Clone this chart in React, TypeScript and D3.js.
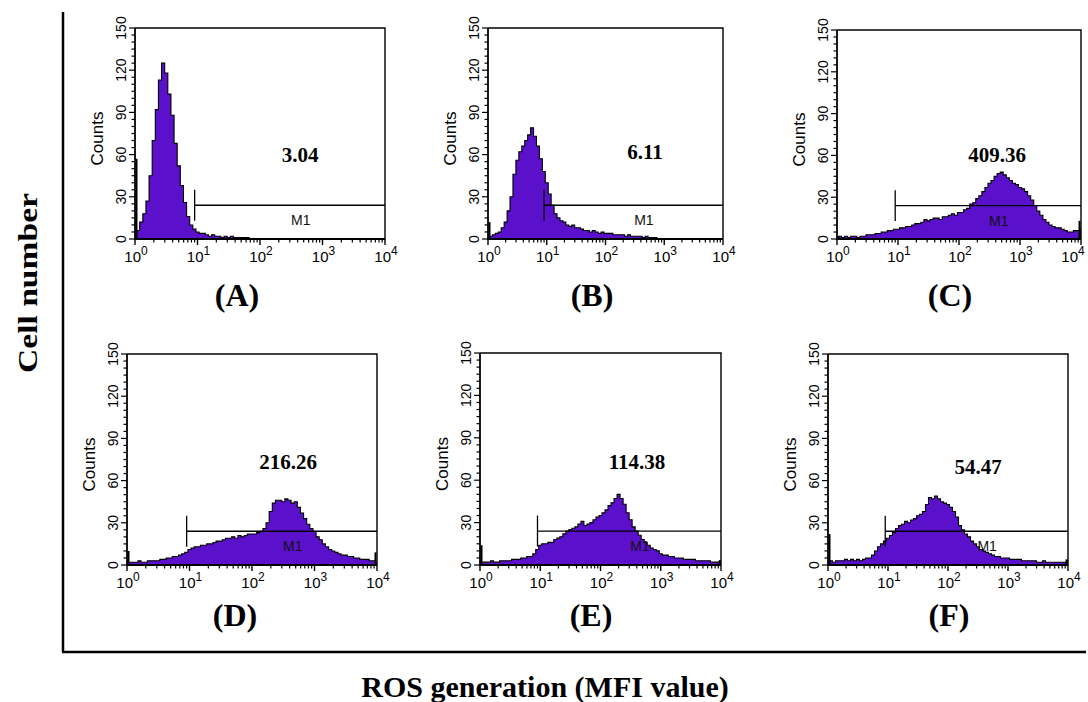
import React from 'react'
import * as d3 from 'd3'

// panel texts
const panelLetters = ['(A)', '(B)', '(C)', '(D)', '(E)', '(F)']
const mfiValues = ['3.04', '6.11', '409.36', '216.26', '114.38', '54.47']
const decades = [0, 1, 2, 3, 4]
const countTicks = [0, 30, 60, 90, 120, 150]
const binStep = 0.05 // log10 width of one channel group

// counts per channel group, from 10^0 to 10^4
const countsA = [4, 6, 12, 18, 27, 45, 70, 92, 113, 125, 118, 103, 88, 68, 52, 38, 26, 16, 10, 7, 5, 4, 4, 3, 2, 3, 2, 2, 1, 2, 1, 2, 1, 1, 1, 1, 1, 0, 0, 0, 0, 0, 0, 0, 0, 0, 0, 0, 0, 0, 0, 0, 0, 0, 0, 0, 0, 0, 0, 0, 0, 0, 0, 0, 0, 0, 0, 0, 0, 0, 0, 0, 0, 0, 0, 0, 0, 0, 0, 0, 0]
const countsB = [3, 2, 3, 4, 5, 8, 12, 20, 30, 46, 56, 62, 66, 70, 74, 79, 73, 66, 57, 48, 40, 32, 24, 18, 15, 13, 12, 10, 9, 10, 8, 8, 7, 6, 6, 5, 6, 5, 4, 5, 4, 4, 4, 3, 3, 3, 3, 2, 3, 2, 2, 2, 2, 1, 2, 1, 1, 1, 0, 0, 0, 0, 0, 0, 0, 0, 0, 0, 0, 0, 0, 0, 0, 0, 0, 0, 0, 0, 0, 0, 0]
const countsC = [1, 2, 1, 2, 1, 2, 2, 1, 2, 2, 3, 3, 3, 4, 4, 5, 5, 6, 6, 7, 7, 8, 8, 9, 9, 10, 11, 11, 12, 14, 13, 14, 15, 15, 14, 16, 16, 17, 18, 17, 19, 19, 21, 22, 25, 26, 29, 31, 34, 37, 40, 42, 45, 47, 48, 46, 44, 42, 40, 39, 37, 36, 34, 31, 28, 24, 20, 17, 14, 12, 10, 9, 8, 8, 7, 6, 5, 5, 6, 6, 7]
const countsD = [3, 2, 2, 2, 3, 2, 2, 3, 3, 3, 3, 4, 4, 5, 5, 6, 6, 7, 8, 9, 11, 12, 13, 13, 14, 14, 15, 15, 16, 17, 17, 18, 19, 19, 20, 19, 21, 20, 21, 22, 22, 22, 23, 24, 26, 30, 38, 44, 46, 46, 45, 47, 46, 44, 45, 41, 37, 33, 29, 26, 24, 20, 18, 15, 13, 11, 10, 9, 8, 7, 7, 6, 6, 5, 5, 4, 4, 4, 3, 3, 2]
const countsE = [3, 2, 2, 2, 3, 2, 2, 3, 3, 3, 3, 4, 4, 4, 5, 5, 6, 6, 8, 11, 14, 15, 15, 16, 16, 18, 19, 20, 22, 24, 25, 26, 27, 29, 31, 28, 29, 30, 32, 34, 35, 37, 39, 42, 44, 47, 50, 47, 43, 37, 32, 27, 24, 21, 18, 16, 14, 12, 11, 10, 8, 7, 7, 6, 6, 5, 5, 5, 4, 4, 4, 4, 3, 3, 3, 3, 3, 2, 2, 2, 3]
const countsF = [2, 3, 2, 3, 3, 3, 4, 3, 4, 3, 4, 3, 4, 5, 5, 7, 10, 13, 15, 17, 19, 21, 23, 26, 28, 29, 31, 30, 32, 33, 35, 36, 38, 43, 48, 47, 49, 47, 45, 44, 43, 41, 38, 34, 28, 25, 22, 20, 17, 15, 13, 11, 10, 9, 8, 7, 6, 6, 5, 5, 5, 4, 4, 4, 4, 3, 3, 3, 3, 3, 2, 2, 3, 2, 2, 2, 2, 2, 2, 2, 3]
const histograms = [countsA, countsB, countsC, countsD, countsE, countsF]

// pile-up at the first / last channel
const lowEdgeSpike = [57, 12, 2, 10, 14, 22]
const highEdgeSpike = [0, 0, 13, 9, 3, 4]

// M1 marker
const gateStart = 9
const gateEnd = 10000
const gateLevel = 24
const gateTickLow = 13
const gateTickHigh = 35
const gateLabel = 'M1'
const gateLabelAt = 450

// layout of each panel (pixels)
const boxes = [
    { x0: 135, x1: 385, y0: 28, y1: 239, lx: 237, ly: 306, mx: 300, my: 162 },
    { x0: 488, x1: 723, y0: 28, y1: 239, lx: 592, ly: 306, mx: 645, my: 159 },
    { x0: 837, x1: 1081, y0: 30, y1: 239, lx: 950, ly: 306, mx: 997, my: 162 },
    { x0: 127, x1: 377, y0: 354, y1: 565, lx: 235, ly: 626, mx: 288, my: 469 },
    { x0: 480, x1: 721, y0: 353, y1: 565, lx: 591, ly: 626, mx: 637, my: 469 },
    { x0: 828, x1: 1068, y0: 354, y1: 565, lx: 949, ly: 626, mx: 978, my: 474 },
]

const purple = '#5b10cc'
const sans = '"Liberation Sans", Arial, sans-serif'
const serif = '"Liberation Serif", "Times New Roman", serif'
const pageWidth = 1088

const App = () => {
    const svgRef = React.useRef<SVGSVGElement>(null)

    React.useEffect(() => {
        const svg = d3.select(svgRef.current)
        svg.selectAll('*').remove()

        // outer frame
        svg.append('line')
            .attr('x1', 63).attr('y1', 12).attr('x2', 63).attr('y2', 652)
            .attr('stroke', 'black').attr('stroke-width', 2.5)
        svg.append('line')
            .attr('x1', 62).attr('y1', 652).attr('x2', 1086).attr('y2', 652)
            .attr('stroke', 'black').attr('stroke-width', 2.5)

        svg.append('text')
            .attr('transform', 'translate(37,283) rotate(-90)')
            .attr('text-anchor', 'middle')
            .attr('textLength', 180)
            .attr('lengthAdjust', 'spacingAndGlyphs')
            .style('font-family', serif)
            .style('font-weight', 'bold')
            .style('font-size', '27px')
            .text('Cell number')

        svg.append('text')
            .attr('x', 545).attr('y', 697)
            .attr('text-anchor', 'middle')
            .style('font-family', serif)
            .style('font-weight', 'bold')
            .style('font-size', '30px')
            .text('ROS generation (MFI value)')

        boxes.forEach((b, p) => {
            const x = d3.scaleLog().domain([1, 10000]).range([b.x0, b.x1])
            const y = d3.scaleLinear().domain([0, 150]).range([b.y1, b.y0])
            const counts = histograms[p]
            const g = svg.append('g')

            const clipId = 'clip' + p
            g.append('clipPath').attr('id', clipId)
                .append('rect')
                .attr('x', b.x0).attr('y', b.y0)
                .attr('width', b.x1 - b.x0).attr('height', b.y1 - b.y0)

            const pos = (i: number) => x(Math.pow(10, i * binStep))
            const area = d3.area<number>()
                .x((d, i) => pos(i))
                .y0(y(0))
                .y1((d) => y(d))
                .curve(d3.curveStep)
            const line = d3.line<number>()
                .x((d, i) => pos(i))
                .y((d) => y(d))
                .curve(d3.curveStep)

            const hist = g.append('g').attr('clip-path', `url(#${clipId})`)
            hist.append('path')
                .attr('d', area(counts))
                .attr('fill', purple)
            hist.append('path')
                .attr('d', line(counts))
                .attr('fill', 'none')
                .attr('stroke', 'black')
                .attr('stroke-width', 1.1)

            // pile-up channels
            g.append('line')
                .attr('x1', b.x0 + 1.5).attr('x2', b.x0 + 1.5)
                .attr('y1', y(0)).attr('y2', y(lowEdgeSpike[p]))
                .attr('stroke', 'black').attr('stroke-width', 2)
            if (highEdgeSpike[p] > 0) {
                g.append('line')
                    .attr('x1', b.x1 - 1.5).attr('x2', b.x1 - 1.5)
                    .attr('y1', y(0)).attr('y2', y(highEdgeSpike[p]))
                    .attr('stroke', 'black').attr('stroke-width', 2)
            }

            // marker M1
            g.append('line')
                .attr('x1', x(gateStart)).attr('x2', x(gateEnd))
                .attr('y1', y(gateLevel)).attr('y2', y(gateLevel))
                .attr('stroke', 'black').attr('stroke-width', 1.3)
            g.append('line')
                .attr('x1', x(gateStart)).attr('x2', x(gateStart))
                .attr('y1', y(gateTickLow)).attr('y2', y(gateTickHigh))
                .attr('stroke', 'black').attr('stroke-width', 1.3)
            g.append('text')
                .attr('x', x(gateLabelAt)).attr('y', y(gateLevel) + 20)
                .attr('text-anchor', 'middle')
                .style('font-family', sans)
                .style('font-size', '14px')
                .attr('fill', '#111')
                .text(gateLabel)

            // box
            g.append('path')
                .attr('d', `M${b.x0},${b.y0}H${b.x1}V${b.y1}`)
                .attr('fill', 'none')
                .attr('stroke', 'black').attr('stroke-width', 1.4)
            g.append('line')
                .attr('x1', b.x0).attr('x2', b.x0).attr('y1', b.y0).attr('y2', b.y1 + 1)
                .attr('stroke', 'black').attr('stroke-width', 1.8)
            g.append('line')
                .attr('x1', b.x0).attr('x2', b.x1).attr('y1', b.y1).attr('y2', b.y1)
                .attr('stroke', 'black').attr('stroke-width', 1.8)

            // y ticks
            const minorY = d3.range(0, 151, 5)
            g.selectAll('.ytick')
                .data(minorY)
                .enter()
                .append('line')
                .attr('x1', b.x0)
                .attr('x2', (d) => b.x0 - (d % 30 === 0 ? 6 : 3.5))
                .attr('y1', (d) => y(d))
                .attr('y2', (d) => y(d))
                .attr('stroke', 'black').attr('stroke-width', 1.2)
            g.selectAll('.ylabel')
                .data(countTicks)
                .enter()
                .append('text')
                .attr('transform', (d) => `translate(${b.x0 - 9},${y(d)}) rotate(-90)`)
                .attr('text-anchor', 'middle')
                .style('font-family', sans)
                .style('font-size', '14px')
                .text((d) => d)
            g.append('text')
                .attr('transform', `translate(${b.x0 - 32},${(b.y0 + b.y1) / 2 + 5}) rotate(-90)`)
                .attr('text-anchor', 'middle')
                .style('font-family', sans)
                .style('font-size', '17px')
                .text('Counts')

            // x ticks
            const minorX: number[] = []
            decades.slice(0, 4).forEach((d) => {
                for (let k = 2; k <= 9; k++) minorX.push(k * Math.pow(10, d))
            })
            g.selectAll('.xminor')
                .data(minorX)
                .enter()
                .append('line')
                .attr('x1', (d) => x(d)).attr('x2', (d) => x(d))
                .attr('y1', b.y1).attr('y2', b.y1 + 3.5)
                .attr('stroke', 'black').attr('stroke-width', 1.2)
            g.selectAll('.xmajor')
                .data(decades)
                .enter()
                .append('line')
                .attr('x1', (d) => x(Math.pow(10, d))).attr('x2', (d) => x(Math.pow(10, d)))
                .attr('y1', b.y1).attr('y2', b.y1 + 6)
                .attr('stroke', 'black').attr('stroke-width', 1.4)
            // labels that would run off the page are pulled back inside it
            const labelX = (d: number) => Math.min(x(Math.pow(10, d)) + 1, pageWidth - 15)
            const xl = g.selectAll('.xlabel')
                .data(decades)
                .enter()
                .append('text')
                .attr('x', labelX)
                .attr('y', b.y1 + 23)
                .attr('text-anchor', 'middle')
                .style('font-family', sans)
                .style('font-size', '15px')
            xl.append('tspan').text('10')
            xl.append('tspan')
                .attr('dy', -7)
                .style('font-size', '12px')
                .text((d) => d)

            // MFI value and panel letter
            g.append('text')
                .attr('x', b.mx).attr('y', b.my)
                .attr('text-anchor', 'middle')
                .style('font-family', serif)
                .style('font-weight', 'bold')
                .style('font-size', '21px')
                .text(mfiValues[p])
            g.append('text')
                .attr('x', b.lx).attr('y', b.ly)
                .attr('text-anchor', 'middle')
                .style('font-family', serif)
                .style('font-weight', 'bold')
                .style('font-size', '32px')
                .text(panelLetters[p])
        })
    }, [])

    return (
        <div style={{ position: 'absolute', left: 0, top: 0, width: 1088, height: 702, background: 'white' }}>
            <svg ref={svgRef} width={1088} height={702} style={{ display: 'block' }}></svg>
        </div>
    )
}

export default App
